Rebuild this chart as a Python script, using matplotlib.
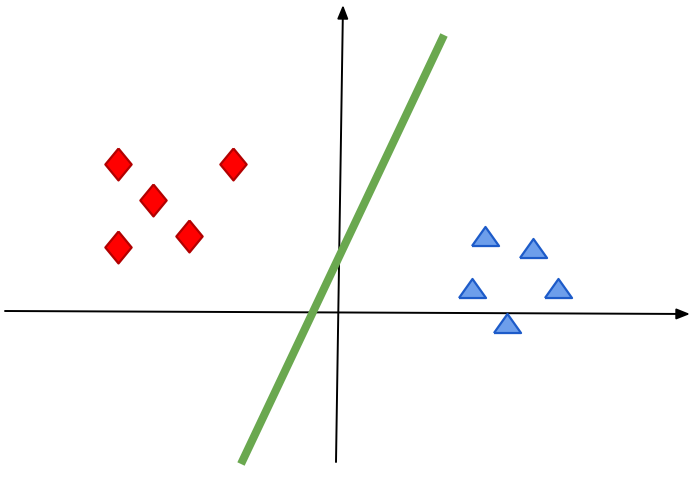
import matplotlib
matplotlib.use("Agg")
import matplotlib.pyplot as plt
from matplotlib.patches import FancyArrowPatch

# Data (coordinates relative to the drawn origin)
diamond_x = [-220, -105, -185, -149, -220]
diamond_y = [148, 148, 112, 76, 65]
triangle_x = [147, 195, 134, 220, 169]
triangle_y = [76.5, 64.5, 24.5, 24.5, -11]
line_x = [-97, 106]
line_y = [-152, 277]
xaxis_start, xaxis_end = (-333, 1), (352, -2)
yaxis_start, yaxis_end = (-2, -150), (5, 307)

fig = plt.figure(figsize=(6.91, 4.79), dpi=100)
ax = fig.add_axes([0, 0, 1, 1])
ax.set_xlim(-338, 353)
ax.set_ylim(-167, 312)
ax.axis("off")

for s, e in [(xaxis_start, xaxis_end), (yaxis_start, yaxis_end)]:
    arr = FancyArrowPatch(s, e, arrowstyle="-|>,head_length=0.8,head_width=0.32",
                          mutation_scale=10, lw=1.4, color="black",
                          shrinkA=0, shrinkB=0, zorder=2)
    ax.add_patch(arr)

ax.plot(line_x, line_y, color="#6aa84f", lw=5.8, solid_capstyle="butt", zorder=3)

diamond_marker = [(0, 17), (14, 0), (0, -17), (-14, 0), (0, 17)]
ax.plot(diamond_x, diamond_y, linestyle="none", marker=diamond_marker,
        markersize=23, markerfacecolor="#ff0000", markeredgecolor="#b20000",
        markeredgewidth=1.6, zorder=4)

tri_marker = [(-13.5, -9.5), (13.5, -9.5), (0, 9.5), (-13.5, -9.5)]
ax.plot(triangle_x, triangle_y, linestyle="none", marker=tri_marker,
        markersize=19.5, markerfacecolor="#6d9eeb", markeredgecolor="#1d5bc9",
        markeredgewidth=1.6, zorder=4)

fig.savefig("out.png", dpi=100)
